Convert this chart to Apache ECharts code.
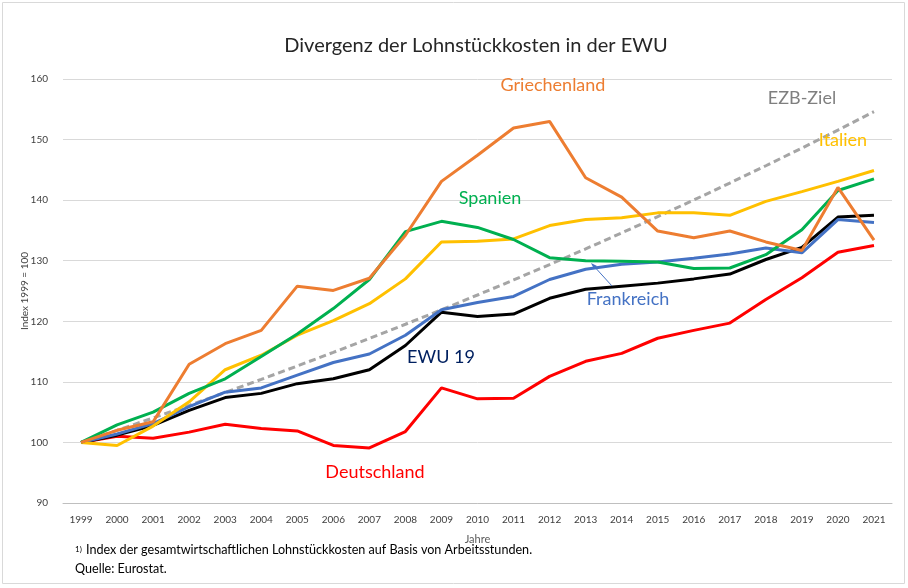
<!DOCTYPE html>
<html lang="de">
<head>
<meta charset="utf-8">
<title>Divergenz der Lohnstückkosten in der EWU</title>
<script src="https://cdn.jsdelivr.net/npm/echarts@6/dist/echarts.min.js"></script>
<style>
  html, body { margin: 0; padding: 0; background: #fff; }
  #main { width: 908px; height: 588px; }
</style>
</head>
<body>
<div id="main"></div>
<script>
// Jahre (Kategorien)
var years = ['1999','2000','2001','2002','2003','2004','2005','2006','2007','2008','2009',
             '2010','2011','2012','2013','2014','2015','2016','2017','2018','2019','2020','2021'];

// Index 1999 = 100
var griechenland = [100, 102.0, 103.4, 112.9, 116.3, 118.5, 125.8, 125.1, 127.1, 134.2, 143.1,
                    147.4, 151.9, 153.0, 143.7, 140.5, 134.9, 133.8, 134.9, 133.1, 131.7, 142.1, 133.4];
var spanien      = [100, 102.9, 105.0, 108.1, 110.5, 114.2, 117.9, 122.1, 126.9, 134.8, 136.5,
                    135.5, 133.5, 130.5, 130.0, 129.9, 129.8, 128.7, 128.8, 131.0, 135.1, 141.6, 143.5];
var italien      = [100, 99.5, 102.7, 106.7, 112.0, 114.4, 117.7, 120.1, 122.9, 127.0, 133.1,
                    133.2, 133.6, 135.8, 136.8, 137.1, 137.9, 137.9, 137.5, 139.8, 141.4, 143.1, 144.9];
var frankreich   = [100, 101.4, 103.1, 105.9, 108.3, 109.0, 111.1, 113.2, 114.6, 117.7, 121.9,
                    123.1, 124.1, 126.9, 128.6, 129.4, 129.8, 130.4, 131.1, 132.1, 131.3, 136.8, 136.3];
var ewu19        = [100, 101.2, 102.8, 105.3, 107.4, 108.1, 109.7, 110.5, 112.0, 116.0, 121.5,
                    120.8, 121.2, 123.8, 125.3, 125.8, 126.3, 127.0, 127.8, 130.2, 132.2, 137.2, 137.5];
var deutschland  = [100, 101.0, 100.7, 101.7, 103.0, 102.3, 101.9, 99.5, 99.1, 101.8, 109.0,
                    107.2, 107.3, 110.9, 113.4, 114.7, 117.2, 118.5, 119.7, 123.6, 127.2, 131.4, 132.5];
var ezbZiel      = [100, 102.0, 104.04, 106.12, 108.24, 110.41, 112.62, 114.87, 117.17, 119.51, 121.90,
                    124.34, 126.82, 129.36, 131.95, 134.59, 137.28, 140.02, 142.82, 145.68, 148.59, 151.57, 154.60];

var font = 'Lato, "Open Sans", sans-serif';

function line(name, data, color, dashed, z) {
    return {
        name: name,
        type: 'line',
        data: data,
        symbol: 'none',
        z: z,
        lineStyle: { color: color, width: 3, type: dashed ? [7, 4] : 'solid' },
        emphasis: { disabled: true }
    };
}

function label(text, x, y, color) {
    return {
        type: 'text', x: x, y: y, z: 100,
        style: { text: text, fill: color, font: '18px ' + font, align: 'center', verticalAlign: 'middle' }
    };
}

var chart = echarts.init(document.getElementById('main'));
chart.setOption({
    animation: false,
    title: {
        text: 'Divergenz der Lohnstückkosten in der EWU',
        left: 471, top: 31, textAlign: 'center',
        textStyle: { fontFamily: font, fontSize: 20, fontWeight: 'normal', color: '#262626' }
    },
    grid: { left: 63, right: 16, top: 79, bottom: 85 },
    xAxis: {
        type: 'category',
        data: years,
        boundaryGap: true,
        name: 'Jahre',
        nameLocation: 'middle',
        nameGap: 31,
        nameTextStyle: { fontFamily: font, fontSize: 11, color: '#595959' },
        axisLine: { lineStyle: { color: '#BFBFBF', width: 1 } },
        axisTick: { length: 4, lineStyle: { color: '#BFBFBF' } },
        axisLabel: { fontFamily: font, fontSize: 10, color: '#404040', margin: 12 }
    },
    yAxis: {
        type: 'value',
        min: 90, max: 160, interval: 10,
        name: 'Index 1999 = 100',
        nameLocation: 'middle',
        nameGap: 33,
        nameMoveOverlap: false,
        nameRotate: 90,
        nameTextStyle: { fontFamily: font, fontSize: 10, color: '#404040' },
        axisLine: { show: false },
        axisTick: { show: false },
        axisLabel: { fontFamily: font, fontSize: 10, color: '#404040', margin: 15 },
        splitLine: { lineStyle: { color: '#D9D9D9', width: 1 } }
    },
    series: [
        line('EZB-Ziel', ezbZiel, '#A5A5A5', true, 2),
        line('Deutschland', deutschland, '#FF0000', false, 3),
        line('EWU 19', ewu19, '#000000', false, 4),
        line('Frankreich', frankreich, '#4472C4', false, 5),
        line('Italien', italien, '#FFC000', false, 6),
        line('Spanien', spanien, '#00B050', false, 7),
        line('Griechenland', griechenland, '#ED7D31', false, 8)
    ],
    graphic: [
        { type: 'rect', shape: { x: 2.5, y: 2.5, width: 902, height: 581 },
          style: { fill: null, stroke: '#D9D9D9', lineWidth: 1 }, silent: true },
        label('Griechenland', 553, 85, '#ED7D31'),
        label('EZB-Ziel', 802, 98, '#7F7F7F'),
        label('Italien', 843, 140, '#FFC000'),
        label('Spanien', 490, 198, '#00B050'),
        label('Frankreich', 628, 299, '#4472C4'),
        label('EWU 19', 441, 357, '#002060'),
        label('Deutschland', 375, 472, '#FF0000'),
        { type: 'line', shape: { x1: 612, y1: 286, x2: 592, y2: 264 },
          style: { stroke: '#4472C4', lineWidth: 1 }, z: 20 },
        { type: 'polygon', shape: { points: [[591, 263], [597, 266], [594, 269]] },
          style: { fill: '#4472C4' }, z: 20 },
        { type: 'text', x: 75, y: 545,
          style: { text: '1)', fill: '#000', font: '8px ' + font } },
        { type: 'text', x: 86, y: 543,
          style: { text: 'Index der gesamtwirtschaftlichen Lohnstückkosten auf Basis von Arbeitsstunden.',
                   fill: '#000', font: '12.6px ' + font } },
        { type: 'text', x: 75, y: 562,
          style: { text: 'Quelle: Eurostat.', fill: '#000', font: '12.6px ' + font } }
    ]
});
</script>
</body>
</html>
